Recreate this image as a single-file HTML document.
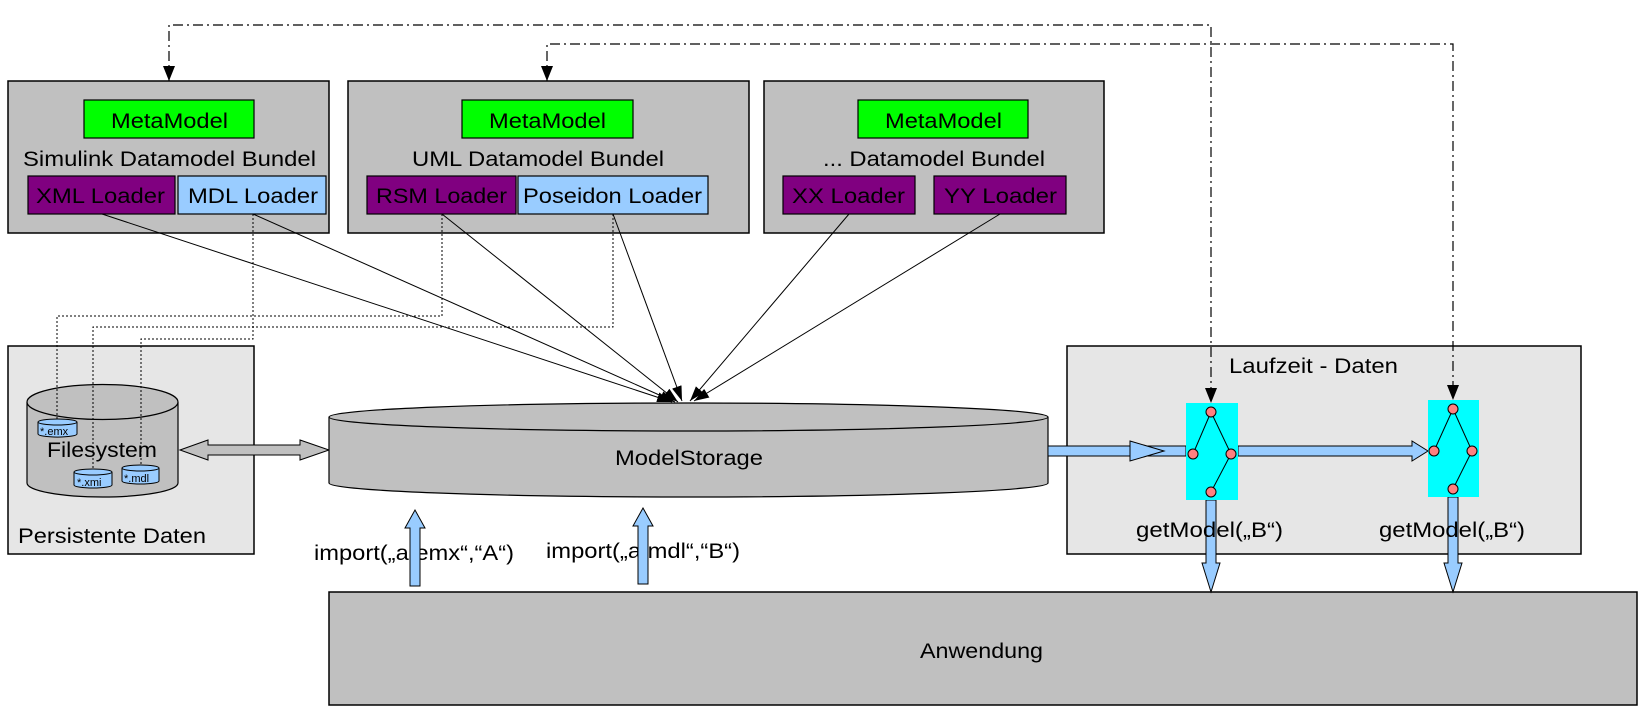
<!DOCTYPE html>
<html><head><meta charset="utf-8"><style>
html,body{margin:0;padding:0;background:#fff;}
svg{display:block;font-family:"Liberation Sans",Arial,sans-serif;}
</style></head><body>
<svg width="1638" height="711" viewBox="0 0 1638 711" xmlns="http://www.w3.org/2000/svg">
<defs>
<marker id="ah" markerWidth="16" markerHeight="12" refX="15" refY="6" orient="auto" markerUnits="userSpaceOnUse">
<path d="M0,1 L15,6 L0,11 Z" fill="#000"/></marker>
</defs>

<!-- Bundle boxes -->
<rect x="8" y="81" width="321" height="152" fill="#c0c0c0" stroke="#000" stroke-width="1.5"/>
<rect x="348" y="81" width="401" height="152" fill="#c0c0c0" stroke="#000" stroke-width="1.5"/>
<rect x="764" y="81" width="340" height="152" fill="#c0c0c0" stroke="#000" stroke-width="1.5"/>

<rect x="84" y="100" width="170" height="38" fill="#00ff00" stroke="#000" stroke-width="1.2"/>
<rect x="462" y="100" width="171" height="38" fill="#00ff00" stroke="#000" stroke-width="1.2"/>
<rect x="858" y="100" width="170" height="38" fill="#00ff00" stroke="#000" stroke-width="1.2"/>
<g font-size="21" fill="#000">
<text x="111" y="128" textLength="117" lengthAdjust="spacingAndGlyphs">MetaModel</text>
<text x="489" y="128" textLength="117" lengthAdjust="spacingAndGlyphs">MetaModel</text>
<text x="885" y="128" textLength="117" lengthAdjust="spacingAndGlyphs">MetaModel</text>
<text x="23" y="166" textLength="293" lengthAdjust="spacingAndGlyphs">Simulink Datamodel Bundel</text>
<text x="412" y="166" textLength="252" lengthAdjust="spacingAndGlyphs">UML Datamodel Bundel</text>
<text x="823" y="166" textLength="222" lengthAdjust="spacingAndGlyphs">... Datamodel Bundel</text>
</g>

<rect x="28" y="176" width="147" height="38" fill="#800080" stroke="#000" stroke-width="1.2"/>
<rect x="178" y="176" width="148" height="38" fill="#99ccff" stroke="#000" stroke-width="1.2"/>
<rect x="367" y="176" width="149" height="38" fill="#800080" stroke="#000" stroke-width="1.2"/>
<rect x="518" y="176" width="190" height="38" fill="#99ccff" stroke="#000" stroke-width="1.2"/>
<rect x="783" y="176" width="132" height="38" fill="#800080" stroke="#000" stroke-width="1.2"/>
<rect x="934" y="176" width="132" height="38" fill="#800080" stroke="#000" stroke-width="1.2"/>
<g font-size="21" fill="#000">
<text x="36" y="203" textLength="129" lengthAdjust="spacingAndGlyphs">XML Loader</text>
<text x="188" y="203" textLength="130" lengthAdjust="spacingAndGlyphs">MDL Loader</text>
<text x="376" y="203" textLength="131" lengthAdjust="spacingAndGlyphs">RSM Loader</text>
<text x="523" y="203" textLength="179" lengthAdjust="spacingAndGlyphs">Poseidon Loader</text>
<text x="792" y="203" textLength="113" lengthAdjust="spacingAndGlyphs">XX Loader</text>
<text x="944" y="203" textLength="113" lengthAdjust="spacingAndGlyphs">YY Loader</text>
</g>

<!-- Persistente Daten -->
<rect x="8" y="346" width="246" height="208" fill="#e6e6e6" stroke="#000" stroke-width="1.5"/>
<text x="18" y="543" font-size="21" textLength="188" lengthAdjust="spacingAndGlyphs">Persistente Daten</text>
<path d="M27,402 L27,483 A75.5,14 0 0 0 178,483 L178,402" fill="#c0c0c0" stroke="#000" stroke-width="1.2"/>
<ellipse cx="102.5" cy="402" rx="75.5" ry="17.5" fill="#c0c0c0" stroke="#000" stroke-width="1.2"/>
<text x="47" y="457" font-size="21" textLength="110" lengthAdjust="spacingAndGlyphs">Filesystem</text>

<!-- dotted lines -->
<g fill="none" stroke="#000" stroke-width="1" stroke-dasharray="2,2">
<polyline points="442,214 442,316 57,316 57,421"/>
<polyline points="613,214 613,327 93,327 93,471"/>
<polyline points="253,214 253,339 141,339 141,467"/>
</g>

<!-- small file cylinders -->
<g stroke="#000" stroke-width="1" fill="#99ccff">
<path d="M38,422 L38,434 A19,3 0 0 0 77,434 L77,422"/><ellipse cx="57.5" cy="422" rx="19.5" ry="3"/>
<path d="M74,472 L74,485 A19,3 0 0 0 112,485 L112,472"/><ellipse cx="93" cy="472" rx="19" ry="3"/>
<path d="M122,468 L122,481 A18.5,3 0 0 0 159,481 L159,468"/><ellipse cx="140.5" cy="468" rx="18.5" ry="3"/>
</g>
<g font-size="11" fill="#000">
<text x="40" y="435">*.emx</text>
<text x="77" y="486">*.xmi</text>
<text x="124" y="482">*.mdl</text>
</g>

<!-- double arrow -->
<path d="M180,450 L208,440 L208,445 L300,445 L300,440 L329,450 L300,460 L300,455 L208,455 L208,460 Z" fill="#c0c0c0" stroke="#000" stroke-width="1"/>

<!-- ModelStorage -->
<path d="M329,417 L329,483 A359.5,14 0 0 0 1048,483 L1048,417" fill="#c0c0c0" stroke="#000" stroke-width="1.2"/>
<ellipse cx="688.5" cy="417" rx="359.5" ry="14" fill="#c0c0c0" stroke="#000" stroke-width="1.2"/>
<text x="615" y="465" font-size="21" textLength="148" lengthAdjust="spacingAndGlyphs">ModelStorage</text>

<!-- loader -> storage lines -->
<g stroke="#000" stroke-width="1" marker-end="url(#ah)">
<line x1="102" y1="214" x2="672" y2="402"/>
<line x1="253" y1="214" x2="675" y2="402"/>
<line x1="442" y1="214" x2="678" y2="402"/>
<line x1="613" y1="214" x2="682" y2="401"/>
<line x1="849" y1="214" x2="690" y2="401"/>
<line x1="1000" y1="214" x2="694" y2="401"/>
</g>

<!-- Laufzeit - Daten -->
<rect x="1067" y="346" width="514" height="208" fill="#e6e6e6" stroke="#000" stroke-width="1.5"/>
<text x="1229" y="373" font-size="21" textLength="169" lengthAdjust="spacingAndGlyphs">Laufzeit - Daten</text>

<!-- dash-dot lines to runtime models -->
<g fill="none" stroke="#000" stroke-width="1.2" stroke-dasharray="10,4,2,4">
<polyline points="169,81 169,25 1211,25 1211,388"/>
<polyline points="547,81 547,44 1453,44 1453,385"/>
</g>
<path d="M163,66 L175,66 L169,81 Z" fill="#000"/>
<path d="M541,66 L553,66 L547,81 Z" fill="#000"/>
<path d="M1205,388 L1217,388 L1211,403 Z" fill="#000"/>
<path d="M1447,385 L1459,385 L1453,400 Z" fill="#000"/>

<!-- horizontal blue arrows -->
<rect x="1048" y="446" width="138" height="10" fill="#99ccff" stroke="#000" stroke-width="1"/>
<path d="M1130,441 L1164,451 L1130,461 Z" fill="#99ccff" stroke="#000" stroke-width="1"/>
<path d="M1238,446 L1412,446 L1412,441 L1428,451 L1412,461 L1412,456 L1238,456 Z" fill="#99ccff" stroke="#000" stroke-width="1"/>

<!-- Anwendung -->
<rect x="329" y="592" width="1308" height="113" fill="#c0c0c0" stroke="#000" stroke-width="1.5"/>
<text x="920" y="658" font-size="21" textLength="123" lengthAdjust="spacingAndGlyphs">Anwendung</text>

<!-- down arrows -->
<path d="M1206,500 L1216,500 L1216,563 L1220,563 L1211,592 L1202,563 L1206,563 Z" fill="#99ccff" stroke="#000" stroke-width="1"/>
<path d="M1448,497 L1458,497 L1458,563 L1462,563 L1453,592 L1444,563 L1448,563 Z" fill="#99ccff" stroke="#000" stroke-width="1"/>

<!-- cyan model trees -->
<rect x="1186" y="403" width="52" height="97" fill="#00ffff"/>
<rect x="1428" y="400" width="51" height="97" fill="#00ffff"/>
<g stroke="#000" stroke-width="1" fill="none">
<polyline points="1193,454 1211,412 1231,454 1211,492"/>
<polyline points="1434,451 1453,409 1472,451 1453,489"/>
</g>
<g fill="#ff8080" stroke="#000" stroke-width="1">
<circle cx="1211" cy="412" r="5"/><circle cx="1193" cy="454" r="5"/><circle cx="1231" cy="454" r="5"/><circle cx="1211" cy="492" r="5"/>
<circle cx="1453" cy="409" r="5"/><circle cx="1434" cy="451" r="5"/><circle cx="1472" cy="451" r="5"/><circle cx="1453" cy="489" r="5"/>
</g>

<g font-size="21" fill="#000">
<text x="1136" y="537" textLength="147" lengthAdjust="spacingAndGlyphs">getModel(„B“)</text>
<text x="1379" y="537" textLength="146" lengthAdjust="spacingAndGlyphs">getModel(„B“)</text>
<text x="314" y="560" textLength="200" lengthAdjust="spacingAndGlyphs">import(„a.emx“,“A“)</text>
<text x="546" y="558" textLength="194" lengthAdjust="spacingAndGlyphs">import(„a.mdl“,“B“)</text>
</g>

<!-- import arrows -->
<path d="M410,586 L420,586 L420,528 L425,528 L415,510 L405,528 L410,528 Z" fill="#99ccff" stroke="#000" stroke-width="1"/>
<path d="M638,584 L648,584 L648,526 L653,526 L643,508 L633,526 L638,526 Z" fill="#99ccff" stroke="#000" stroke-width="1"/>
</svg>
</body></html>
